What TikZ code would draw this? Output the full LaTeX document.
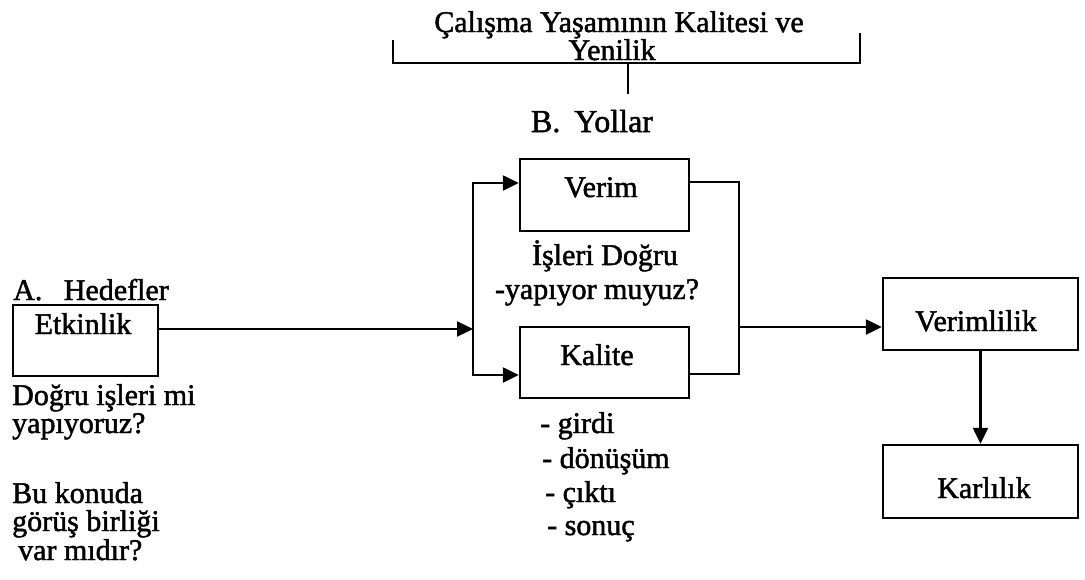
\documentclass[tikz,border=0pt]{standalone}
\usepackage{fontspec}
\setmainfont{Liberation Serif}[FakeBold=1.6]
\usetikzlibrary{arrows.meta}
\begin{document}
\begin{tikzpicture}[x=1pt,y=-1pt,
  box/.style={draw,line width=2.4pt,inner sep=0pt},
  txt/.style={font=\fontsize{30}{35}\selectfont,inner sep=0pt},
  bigtxt/.style={font=\fontsize{32}{37}\selectfont,inner sep=0pt},
  ln/.style={line width=2.4pt},
  thinln/.style={line width=2pt},
  arr/.style={line width=2.4pt,-{Triangle[length=16pt,width=15pt]}}]
\useasboundingbox (0,0) rectangle (1085,579);

% boxes
\node[box,minimum width=145pt,minimum height=71pt] (etk) at (85.5,340.5) {};
\node[box,minimum width=169pt,minimum height=72pt] (verim) at (604.5,195) {};
\node[box,minimum width=169pt,minimum height=71pt] (kal) at (604.5,362.5) {};
\node[box,minimum width=195pt,minimum height=72pt] (verl) at (980.5,314) {};
\node[box,minimum width=195pt,minimum height=73pt] (karl) at (980.5,481.5) {};

% box texts
\node[txt,anchor=base] (tetk) at (83,334) {Etkinlik};
\node[txt,anchor=base] (tverim) at (601,197) {Verim};
\node[txt,anchor=base] (tkal) at (597,365) {Kalite};
\node[txt,anchor=base] (tverl) at (976,331) {Verimlilik};
\node[txt,anchor=base] (tkarl) at (984,498) {Karlılık};

% top texts
\node[txt,anchor=base] (title1) at (619,32) {Çalışma Yaşamının Kalitesi ve};
\node[txt,anchor=base] (title2) at (612,60) {Yenilik};
\node[bigtxt,anchor=base] (yollar) at (592,132) {B.\hspace{6pt} Yollar};

% bracket
\coordinate (bl) at (393,40);
\coordinate (blb) at (393,63);
\coordinate (brb) at (860,63);
\coordinate (br) at (860,33);
\coordinate (st) at (628,63);
\coordinate (sb) at (628,94);
\draw[thinln] (bl) -- (blb) -- (brb) -- (br);
\draw[thinln] (st) -- (sb);

% middle texts
\node[txt,anchor=base] (isleri) at (605,265) {İşleri Doğru};
\node[txt,anchor=base] (yapiyor) at (597,299) {-yapıyor muyuz?};
\node[txt,anchor=base west] (g1) at (540,433) {- girdi};
\node[txt,anchor=base west] (g2) at (542,468) {- dönüşüm};
\node[txt,anchor=base west] (g3) at (545,502) {- çıktı};
\node[txt,anchor=base west] (g4) at (547,535) {- sonuç};

% left texts
\node[txt,anchor=base west] (hedef) at (13,300) {A.\hspace{14pt} Hedefler};
\node[txt,anchor=base west] (l1) at (12,405) {Doğru işleri mi};
\node[txt,anchor=base west] (l2) at (12,433) {yapıyoruz?};
\node[txt,anchor=base west] (l3) at (12,503) {Bu konuda};
\node[txt,anchor=base west] (l4) at (12,531) {görüş birliği};
\node[txt,anchor=base west] (l5) at (18,560) {var mıdır?};

% connectors
\coordinate (split) at (473,329);
\coordinate (merge) at (739,327);
\draw[arr] (etk.east |- 0,329) -- (split);
\draw[arr] (split) |- (verim.west |- 0,183);
\draw[arr] (split) |- (kal.west |- 0,375);
\draw[ln] (verim.east |- 0,182) -| (merge) |- (kal.east |- 0,374);
\draw[arr] (merge) -- (verl.west |- merge);
\draw[arr] (verl.south) -- (karl.north);
\end{tikzpicture}
\end{document}
